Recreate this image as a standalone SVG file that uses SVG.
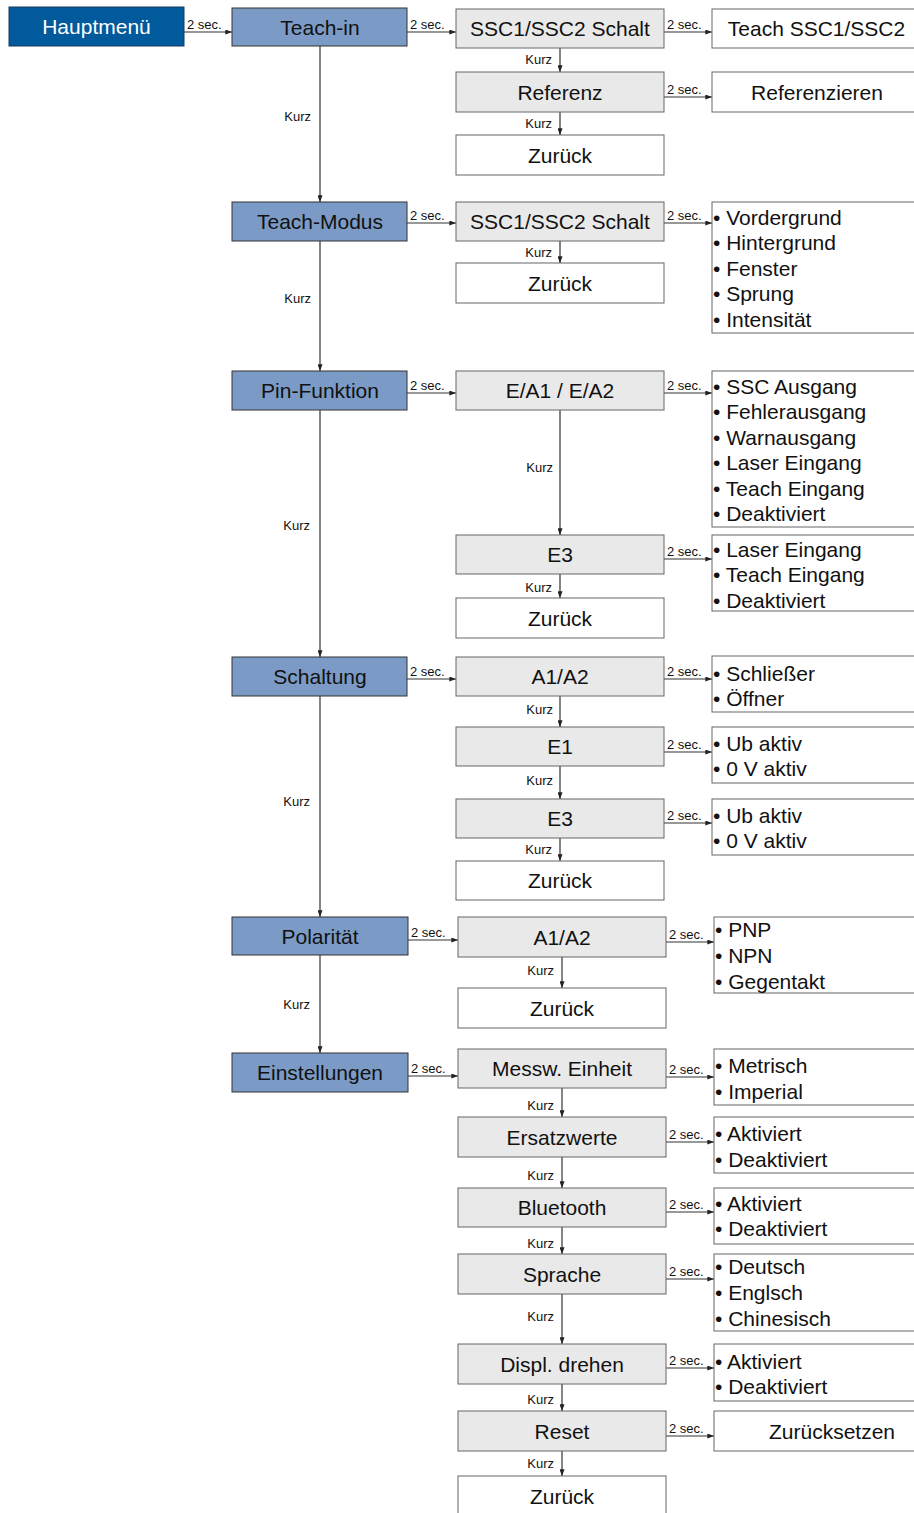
<svg xmlns="http://www.w3.org/2000/svg" width="914" height="1513" viewBox="0 0 914 1513">
<defs>
<style>
text{font-family:"Liberation Sans",Arial,Helvetica,sans-serif;fill:#111}
.main rect{fill:#005a9c;stroke:#1a3a5c;stroke-width:1}
.main text{fill:#fff;font-size:21px;text-anchor:middle}
.c1 rect{fill:#7b9bc6;stroke:#333;stroke-width:1}
.c2 rect{fill:#e9e9e9;stroke:#666;stroke-width:1}
.c2w rect,.c3 rect{fill:#fff;stroke:#666;stroke-width:1}
.lbl{font-size:21px;text-anchor:middle}
.li{font-size:21px}
.conn line{stroke:#333;stroke-width:1.2;fill:none}
.k{font-size:13px;text-anchor:end}
.s{font-size:13px}
</style>
<marker id="ah" viewBox="0 0 8 6" refX="8" refY="3" markerWidth="7" markerHeight="5" markerUnits="userSpaceOnUse" orient="auto"><path d="M0,0 L8,3 L0,6 z" fill="#222"/></marker>
</defs>
<rect x="0" y="0" width="914" height="1513" fill="#fff"/>

<g id="connectors" class="conn">
<g marker-end="url(#ah)">
<line x1="184" y1="32" x2="232" y2="32"/>
<line x1="407" y1="32" x2="456" y2="32"/>
<line x1="664" y1="32" x2="712" y2="32"/>
<line x1="664" y1="97" x2="712" y2="97"/>
<line x1="407" y1="223" x2="456" y2="223"/>
<line x1="664" y1="223" x2="712" y2="223"/>
<line x1="407" y1="393" x2="456" y2="393"/>
<line x1="664" y1="393" x2="712" y2="393"/>
<line x1="664" y1="559" x2="712" y2="559"/>
<line x1="407" y1="679" x2="456" y2="679"/>
<line x1="664" y1="679" x2="712" y2="679"/>
<line x1="664" y1="752" x2="712" y2="752"/>
<line x1="664" y1="823" x2="712" y2="823"/>
<line x1="408" y1="940" x2="458" y2="940"/>
<line x1="666" y1="942" x2="714" y2="942"/>
<line x1="408" y1="1076" x2="458" y2="1076"/>
<line x1="666" y1="1077" x2="714" y2="1077"/>
<line x1="666" y1="1142" x2="714" y2="1142"/>
<line x1="666" y1="1212" x2="714" y2="1212"/>
<line x1="666" y1="1279" x2="714" y2="1279"/>
<line x1="666" y1="1368" x2="714" y2="1368"/>
<line x1="666" y1="1436" x2="714" y2="1436"/>

<line x1="320" y1="46" x2="320" y2="202"/>
<line x1="320" y1="241" x2="320" y2="371"/>
<line x1="320" y1="410" x2="320" y2="657"/>
<line x1="320" y1="696" x2="320" y2="917"/>
<line x1="320" y1="955" x2="320" y2="1053"/>

<line x1="560" y1="48" x2="560" y2="72"/>
<line x1="560" y1="112" x2="560" y2="135"/>
<line x1="560" y1="241" x2="560" y2="263"/>
<line x1="560" y1="410" x2="560" y2="535"/>
<line x1="560" y1="574" x2="560" y2="598"/>
<line x1="560" y1="696" x2="560" y2="727"/>
<line x1="560" y1="766" x2="560" y2="799"/>
<line x1="560" y1="838" x2="560" y2="861"/>
<line x1="562" y1="957" x2="562" y2="988"/>
<line x1="562" y1="1088" x2="562" y2="1117"/>
<line x1="562" y1="1157" x2="562" y2="1188"/>
<line x1="562" y1="1227" x2="562" y2="1254"/>
<line x1="562" y1="1294" x2="562" y2="1344"/>
<line x1="562" y1="1384" x2="562" y2="1411"/>
<line x1="562" y1="1451" x2="562" y2="1476"/>
</g>
<g class="s">
<text x="187" y="29" class="s">2 sec.</text>
<text x="410" y="29" class="s">2 sec.</text>
<text x="667" y="29" class="s">2 sec.</text>
<text x="667" y="94" class="s">2 sec.</text>
<text x="410" y="220" class="s">2 sec.</text>
<text x="667" y="220" class="s">2 sec.</text>
<text x="410" y="390" class="s">2 sec.</text>
<text x="667" y="390" class="s">2 sec.</text>
<text x="667" y="556" class="s">2 sec.</text>
<text x="410" y="676" class="s">2 sec.</text>
<text x="667" y="676" class="s">2 sec.</text>
<text x="667" y="749" class="s">2 sec.</text>
<text x="667" y="820" class="s">2 sec.</text>
<text x="411" y="937" class="s">2 sec.</text>
<text x="669" y="939" class="s">2 sec.</text>
<text x="411" y="1073" class="s">2 sec.</text>
<text x="669" y="1074" class="s">2 sec.</text>
<text x="669" y="1139" class="s">2 sec.</text>
<text x="669" y="1209" class="s">2 sec.</text>
<text x="669" y="1276" class="s">2 sec.</text>
<text x="669" y="1365" class="s">2 sec.</text>
<text x="669" y="1433" class="s">2 sec.</text>
</g>
<g>
<text x="311" y="121" class="k">Kurz</text>
<text x="311" y="303" class="k">Kurz</text>
<text x="310" y="530" class="k">Kurz</text>
<text x="310" y="806" class="k">Kurz</text>
<text x="310" y="1009" class="k">Kurz</text>
<text x="552" y="64" class="k">Kurz</text>
<text x="552" y="128" class="k">Kurz</text>
<text x="552" y="257" class="k">Kurz</text>
<text x="553" y="472" class="k">Kurz</text>
<text x="552" y="592" class="k">Kurz</text>
<text x="553" y="714" class="k">Kurz</text>
<text x="553" y="785" class="k">Kurz</text>
<text x="552" y="854" class="k">Kurz</text>
<text x="554" y="975" class="k">Kurz</text>
<text x="554" y="1110" class="k">Kurz</text>
<text x="554" y="1180" class="k">Kurz</text>
<text x="554" y="1248" class="k">Kurz</text>
<text x="554" y="1321" class="k">Kurz</text>
<text x="554" y="1404" class="k">Kurz</text>
<text x="554" y="1468" class="k">Kurz</text>
</g>
</g>

<g id="hauptmenue" class="main"><rect x="9" y="7" width="175" height="39"/><text x="96.5" y="34">Hauptmenü</text></g>

<g id="teach-in" class="c1"><rect x="232" y="8" width="175" height="38"/><text x="320" y="34.5" class="lbl">Teach-in</text></g>
<g id="teach-modus" class="c1"><rect x="232" y="202" width="175" height="39"/><text x="320" y="229" class="lbl">Teach-Modus</text></g>
<g id="pin-funktion" class="c1"><rect x="232" y="371" width="175" height="39"/><text x="320" y="398" class="lbl">Pin-Funktion</text></g>
<g id="schaltung" class="c1"><rect x="232" y="657" width="175" height="39"/><text x="320" y="684" class="lbl">Schaltung</text></g>
<g id="polaritaet" class="c1"><rect x="232" y="917" width="176" height="38"/><text x="320" y="943.5" class="lbl">Polarität</text></g>
<g id="einstellungen" class="c1"><rect x="232" y="1053" width="176" height="39"/><text x="320" y="1080" class="lbl">Einstellungen</text></g>

<g id="ti-ssc" class="c2"><rect x="456" y="9" width="208" height="39"/><text x="560" y="36" class="lbl">SSC1/SSC2 Schalt</text></g>
<g id="ti-referenz" class="c2"><rect x="456" y="72" width="208" height="40"/><text x="560" y="99.5" class="lbl">Referenz</text></g>
<g id="ti-zurueck" class="c2w"><rect x="456" y="135" width="208" height="40"/><text x="560" y="162.5" class="lbl">Zurück</text></g>
<g id="tm-ssc" class="c2"><rect x="456" y="202" width="208" height="39"/><text x="560" y="229" class="lbl">SSC1/SSC2 Schalt</text></g>
<g id="tm-zurueck" class="c2w"><rect x="456" y="263" width="208" height="40"/><text x="560" y="290.5" class="lbl">Zurück</text></g>
<g id="pf-ea" class="c2"><rect x="456" y="371" width="208" height="39"/><text x="560" y="398" class="lbl">E/A1 / E/A2</text></g>
<g id="pf-e3" class="c2"><rect x="456" y="535" width="208" height="39"/><text x="560" y="562" class="lbl">E3</text></g>
<g id="pf-zurueck" class="c2w"><rect x="456" y="598" width="208" height="40"/><text x="560" y="625.5" class="lbl">Zurück</text></g>
<g id="sc-a1a2" class="c2"><rect x="456" y="657" width="208" height="39"/><text x="560" y="684" class="lbl">A1/A2</text></g>
<g id="sc-e1" class="c2"><rect x="456" y="727" width="208" height="39"/><text x="560" y="754" class="lbl">E1</text></g>
<g id="sc-e3" class="c2"><rect x="456" y="799" width="208" height="39"/><text x="560" y="826" class="lbl">E3</text></g>
<g id="sc-zurueck" class="c2w"><rect x="456" y="861" width="208" height="39"/><text x="560" y="888" class="lbl">Zurück</text></g>
<g id="po-a1a2" class="c2"><rect x="458" y="917" width="208" height="40"/><text x="562" y="944.5" class="lbl">A1/A2</text></g>
<g id="po-zurueck" class="c2w"><rect x="458" y="988" width="208" height="40"/><text x="562" y="1015.5" class="lbl">Zurück</text></g>
<g id="es-messw" class="c2"><rect x="458" y="1049" width="208" height="39"/><text x="562" y="1076" class="lbl">Messw. Einheit</text></g>
<g id="es-ersatz" class="c2"><rect x="458" y="1117" width="208" height="40"/><text x="562" y="1144.5" class="lbl">Ersatzwerte</text></g>
<g id="es-bluetooth" class="c2"><rect x="458" y="1188" width="208" height="39"/><text x="562" y="1215" class="lbl">Bluetooth</text></g>
<g id="es-sprache" class="c2"><rect x="458" y="1254" width="208" height="40"/><text x="562" y="1281.5" class="lbl">Sprache</text></g>
<g id="es-displ" class="c2"><rect x="458" y="1344" width="208" height="40"/><text x="562" y="1371.5" class="lbl">Displ. drehen</text></g>
<g id="es-reset" class="c2"><rect x="458" y="1411" width="208" height="40"/><text x="562" y="1438.5" class="lbl">Reset</text></g>
<g id="es-zurueck" class="c2w"><rect x="458" y="1476" width="208" height="40"/><text x="562" y="1503.5" class="lbl">Zurück</text></g>

<g id="ti-teach" class="c3"><rect x="712" y="9" width="210" height="39"/><text x="816.5" y="36" class="lbl">Teach SSC1/SSC2</text></g>
<g id="ti-referenzieren" class="c3"><rect x="712" y="72" width="210" height="40"/><text x="817" y="99.5" class="lbl">Referenzieren</text></g>
<g id="tm-list" class="c3"><rect x="712" y="202" width="210" height="131"/>
<text x="713" y="224.5" class="li">• Vordergrund</text><text x="713" y="250" class="li">• Hintergrund</text><text x="713" y="275.5" class="li">• Fenster</text><text x="713" y="301" class="li">• Sprung</text><text x="713" y="326.5" class="li">• Intensität</text></g>
<g id="pf-ea-list" class="c3"><rect x="712" y="371" width="210" height="156"/>
<text x="713" y="393.5" class="li">• SSC Ausgang</text><text x="713" y="419" class="li">• Fehlerausgang</text><text x="713" y="444.5" class="li">• Warnausgang</text><text x="713" y="470" class="li">• Laser Eingang</text><text x="713" y="495.5" class="li">• Teach Eingang</text><text x="713" y="521" class="li">• Deaktiviert</text></g>
<g id="pf-e3-list" class="c3"><rect x="712" y="535" width="210" height="76"/>
<text x="713" y="556.5" class="li">• Laser Eingang</text><text x="713" y="582" class="li">• Teach Eingang</text><text x="713" y="607.5" class="li">• Deaktiviert</text></g>
<g id="sc-a1a2-list" class="c3"><rect x="712" y="656" width="210" height="56"/>
<text x="713" y="681" class="li">• Schließer</text><text x="713" y="706" class="li">• Öffner</text></g>
<g id="sc-e1-list" class="c3"><rect x="712" y="727" width="210" height="56"/>
<text x="713" y="751" class="li">• Ub aktiv</text><text x="713" y="776" class="li">• 0 V aktiv</text></g>
<g id="sc-e3-list" class="c3"><rect x="712" y="799" width="210" height="56"/>
<text x="713" y="823" class="li">• Ub aktiv</text><text x="713" y="848" class="li">• 0 V aktiv</text></g>
<g id="po-list" class="c3"><rect x="714" y="917" width="210" height="76"/>
<text x="715" y="937" class="li">• PNP</text><text x="715" y="963" class="li">• NPN</text><text x="715" y="989" class="li">• Gegentakt</text></g>
<g id="es-messw-list" class="c3"><rect x="714" y="1049" width="210" height="56"/>
<text x="715" y="1072.5" class="li">• Metrisch</text><text x="715" y="1098.5" class="li">• Imperial</text></g>
<g id="es-ersatz-list" class="c3"><rect x="714" y="1117" width="210" height="56"/>
<text x="715" y="1141" class="li">• Aktiviert</text><text x="715" y="1167" class="li">• Deaktiviert</text></g>
<g id="es-bluetooth-list" class="c3"><rect x="714" y="1188" width="210" height="56"/>
<text x="715" y="1211" class="li">• Aktiviert</text><text x="715" y="1236" class="li">• Deaktiviert</text></g>
<g id="es-sprache-list" class="c3"><rect x="714" y="1254" width="210" height="77"/>
<text x="715" y="1274" class="li">• Deutsch</text><text x="715" y="1300" class="li">• Englsch</text><text x="715" y="1326" class="li">• Chinesisch</text></g>
<g id="es-displ-list" class="c3"><rect x="714" y="1344" width="210" height="57"/>
<text x="715" y="1368.5" class="li">• Aktiviert</text><text x="715" y="1394" class="li">• Deaktiviert</text></g>
<g id="es-zuruecksetzen" class="c3"><rect x="714" y="1411" width="240" height="40"/><text x="832" y="1438.5" class="lbl">Zurücksetzen</text></g>
</svg>
